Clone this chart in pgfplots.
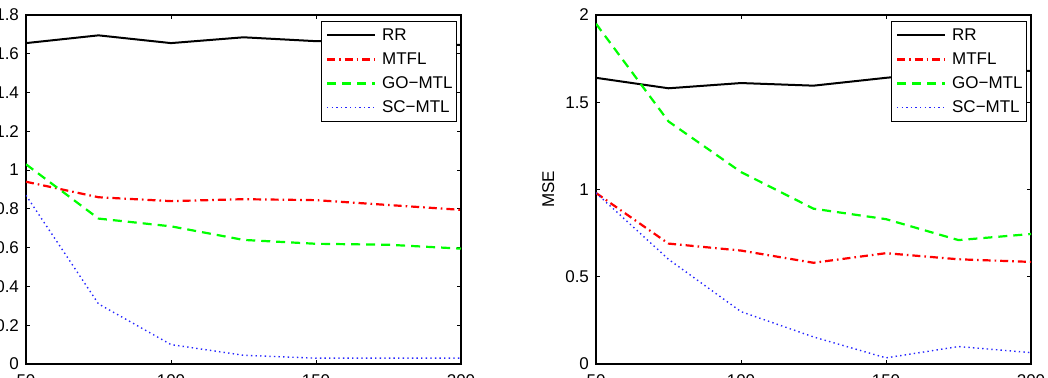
\documentclass[border=0pt]{standalone}
\usepackage{fontspec}
\setmainfont{Liberation Sans}
\usepackage{pgfplots}
\pgfplotsset{compat=1.18}
\pgfplotsset{
  mystyle/.style={
    width=217.5pt, height=174.5pt, scale only axis,
    xmin=50, xmax=200, xtick={50,100,150,200},
    tick align=inside, major tick length=2pt,
    axis line style={line width=0.7pt},
    every tick/.style={black, line width=0.5pt},
    /pgf/number format/assume math mode=true,
    tick label style={font=\fontsize{8.5}{10}\selectfont},
    xticklabel style={yshift=-2pt},
    label style={font=\fontsize{8.5}{10}\selectfont},
    legend style={at={(rel axis cs:1,1)}, anchor=north east, xshift=-2pt, yshift=-3pt,
      draw=black, line width=0.5pt, inner xsep=2pt, inner ysep=2.5pt,
      font=\fontsize{8.5}{10}\selectfont, row sep=3pt, column sep=3pt,
      nodes={inner sep=0pt, text height=7pt, text depth=2pt}},
    legend cell align=left,
    legend image code/.code={\draw[#1] (0pt,0pt) -- (24pt,0pt);},
  },
  rr/.style={black, line width=1pt},
  mtfl/.style={red, line width=1.1pt, dash pattern=on 4pt off 2pt on 0.8pt off 2pt},
  go/.style={green, line width=1.1pt, dash pattern=on 4.5pt off 3pt},
  sc/.style={blue!85, line width=0.7pt, dash pattern=on 0.7pt off 1.6pt},
}
\begin{document}
\begin{tikzpicture}
\path[use as bounding box] (0,0) rectangle (524pt,189pt);
\clip (0,0) rectangle (524pt,189pt);
\begin{axis}[mystyle, at={(13pt,7pt)}, anchor=south west,
  ymin=0, ymax=1.8, ytick={0,0.2,...,1.8}]
\addplot[rr] coordinates {(50,1.655)(75,1.695)(100,1.655)(125,1.685)(150,1.665)(175,1.66)(200,1.645)};
\addplot[mtfl] coordinates {(50,0.94)(75,0.86)(100,0.84)(125,0.85)(150,0.845)(175,0.82)(200,0.795)};
\addplot[go] coordinates {(50,1.03)(75,0.75)(100,0.71)(125,0.64)(150,0.62)(175,0.615)(200,0.595)};
\addplot[sc] coordinates {(50,0.87)(75,0.31)(100,0.10)(125,0.045)(150,0.03)(175,0.03)(200,0.03)};
\legend{RR,MTFL,GO\textminus MTL,SC\textminus MTL}
\end{axis}
\begin{axis}[mystyle, at={(298pt,7pt)}, anchor=south west,
  ymin=0, ymax=2, ytick={0,0.5,1,1.5,2}, ylabel={MSE},
  ylabel style={at={(axis description cs:-0.110,0.5)}, anchor=center}]
\addplot[rr] coordinates {(50,1.64)(75,1.58)(100,1.61)(125,1.595)(150,1.64)(175,1.68)(200,1.68)};
\addplot[mtfl] coordinates {(50,0.98)(75,0.69)(100,0.65)(125,0.58)(150,0.635)(175,0.60)(200,0.585)};
\addplot[go] coordinates {(50,1.95)(75,1.39)(100,1.10)(125,0.89)(150,0.83)(175,0.71)(200,0.745)};
\addplot[sc] coordinates {(50,0.98)(75,0.60)(100,0.30)(125,0.155)(150,0.035)(175,0.10)(200,0.065)};
\legend{RR,MTFL,GO\textminus MTL,SC\textminus MTL}
\end{axis}
\end{tikzpicture}
\end{document}
